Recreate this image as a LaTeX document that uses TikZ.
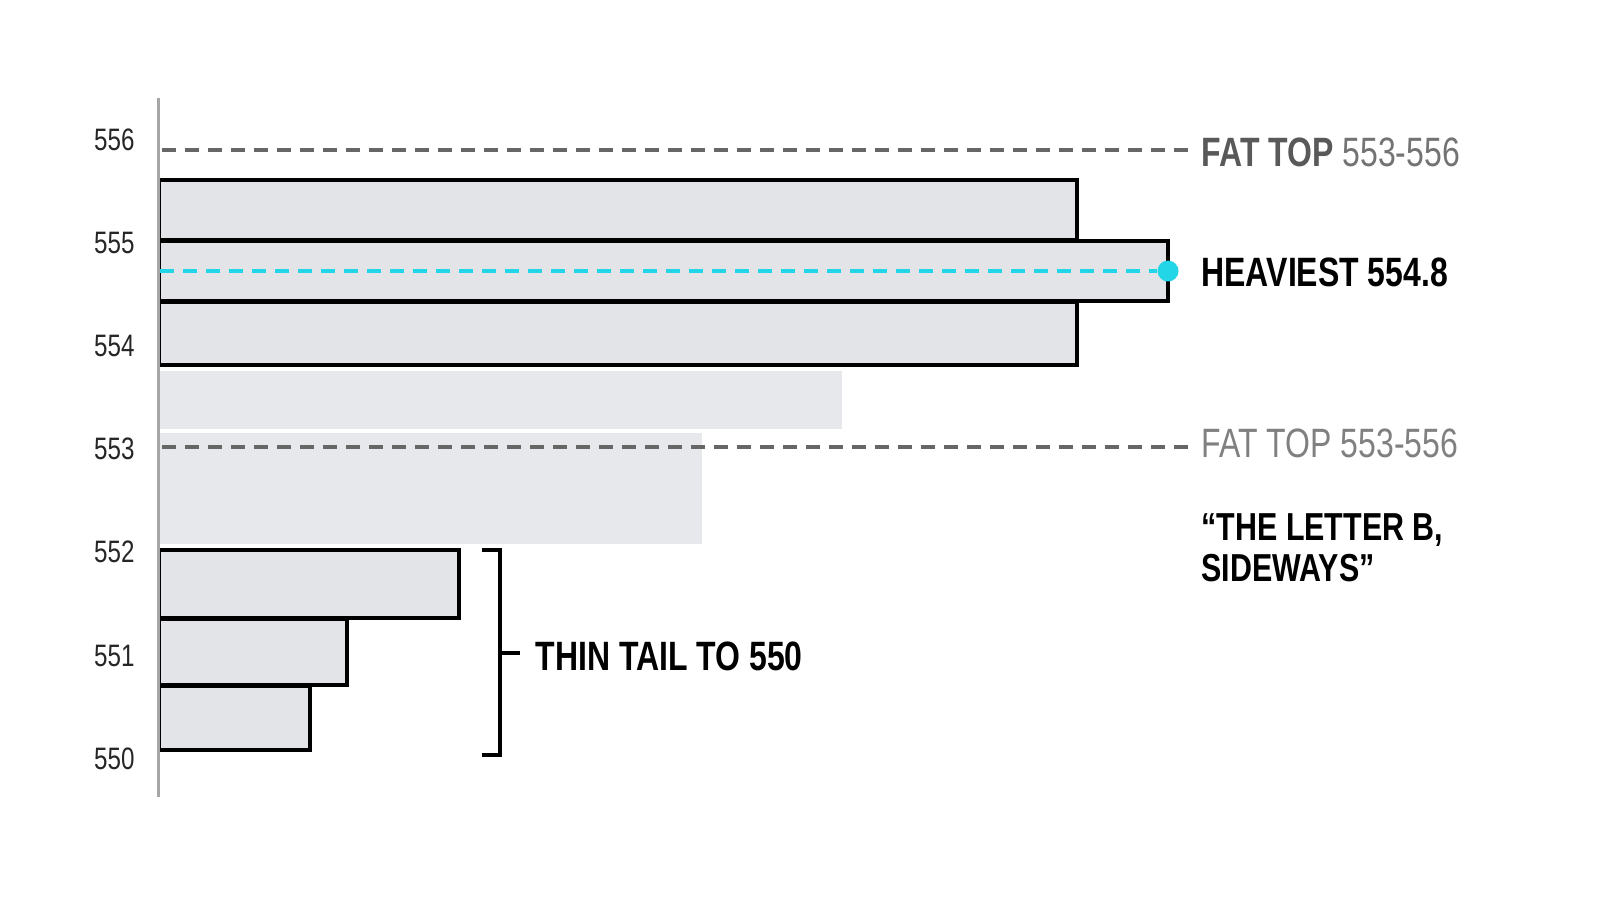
\documentclass[tikz,border=0pt]{standalone}
\usepackage{fontspec}
\setmainfont[FakeStretch=0.78]{Liberation Sans}
\begin{document}
\begin{tikzpicture}[x=1pt,y=-1pt,
  bar/.style={fill=barfill,draw=black,line width=3.4pt},
  lbar/.style={fill=lightfill},
  tick/.style={anchor=east,font=\fontsize{31}{33}\selectfont,text=black!85},
  guide/.style={draw=black!60,line width=3.6pt,dash pattern=on 14pt off 9pt},
  lab/.style={anchor=west,font=\fontsize{41}{44}\selectfont\bfseries}]
\definecolor{barfill}{HTML}{E3E4E7}
\definecolor{lightfill}{HTML}{E7E8EB}
\definecolor{cy}{HTML}{22D6E8}
\useasboundingbox (0,0) rectangle (1600,914);
% light bars
\path[lbar] (160,371) rectangle (842,429);
\path[lbar] (160,433) rectangle (702,544);
% outlined bars
\path[bar] (159,180) rectangle (1077,240);
\path[bar] (159,241) rectangle (1168,301);
\path[bar] (159,302) rectangle (1077,365);
\path[bar] (159,550) rectangle (459,618);
\path[bar] (159,619) rectangle (347,685);
\path[bar] (159,686) rectangle (310,750);
% axis
\draw[black!35,line width=3pt] (158,98) -- (158,797);
\foreach \v/\y in {556/140,555/243,554/346,553/449,552/552,551/656,550/759}
  \node[tick] (t\v) at (138,\y) {\v};
% guides
\coordinate (g1a) at (162,150); \coordinate (g1b) at (1192,150);
\coordinate (g2a) at (162,447); \coordinate (g2b) at (1192,447);
\draw[guide] (g1a) -- (g1b);
\draw[guide] (g2a) -- (g2b);
\node[lab] (fat1) at (1198,152) {\textcolor{black!65}{FAT TOP} \textcolor{black!55}{\mdseries 553-556}};
\node[lab,font=\fontsize{41}{44}\selectfont\mdseries,text=black!50] (fat2) at (1198,443) {FAT TOP 553-556};
% heaviest
\node[circle,fill=cy,minimum size=21pt,inner sep=0] (dot) at (1168,271) {};
\coordinate (ca) at (160,271);
\draw[cy,line width=3.6pt,dash pattern=on 14pt off 9pt] (ca) -- (dot.west);
\node[lab] (heavy) at (1198,272) {HEAVIEST 554.8};
\node[lab,align=left,font=\fontsize{39}{41}\selectfont\bfseries] (quote) at (1198,548) {“THE LETTER B,\\SIDEWAYS”};
% bracket
\coordinate (b1) at (482,550); \coordinate (b2) at (500,550);
\coordinate (b3) at (500,755); \coordinate (b4) at (482,755);
\coordinate (bm) at (500,653); \coordinate (bn) at (520,653);
\draw[black,line width=3.4pt] (b1) -- (b2) -- (b3) -- (b4);
\draw[black,line width=3.4pt] (bm) -- (bn);
\node[lab] (thin) at (532,656) {THIN TAIL TO 550};
\end{tikzpicture}
\end{document}
